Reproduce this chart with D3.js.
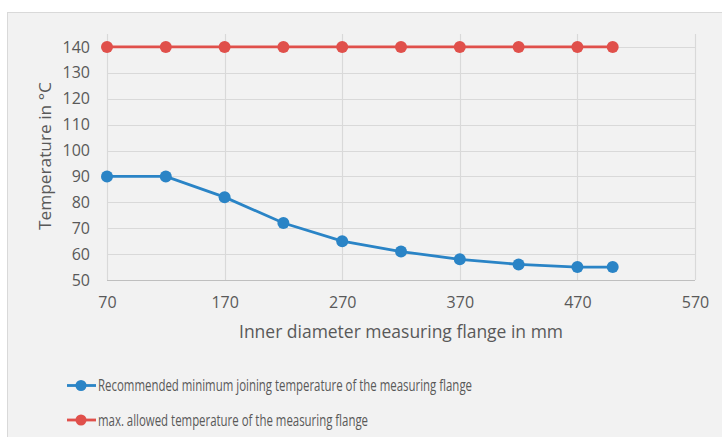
<!DOCTYPE html>
<html><head><meta charset="utf-8">
<script src="https://cdn.jsdelivr.net/npm/d3@7"></script>
<style>body{margin:0;background:#fff}svg{display:block}text{font-family:"Open Sans",sans-serif;fill:#595959}</style>
</head><body><svg id="c" width="722" height="437"></svg>
<script>
const xValues = [70,120,170,220,270,320,370,420,470,500];
const recommended = [90,90,82,72,65,61,58,56,55,55];
const maxAllowed = [140,140,140,140,140,140,140,140,140,140];
const xTicks = [70,170,270,370,470,570];
const yTicks = [50,60,70,80,90,100,110,120,130,140];
const seriesNames = ["Recommended minimum joining temperature of the measuring flange","max. allowed temperature of the measuring flange"];
const colors = ["#2a84c6","#e0504b"];

const svg = d3.select("#c");
svg.append("rect").attr("x",7.5).attr("y",12.5).attr("width",730).attr("height",440).attr("fill","#f2f2f2").attr("stroke","#d9d9d9");
const x = d3.scaleLinear().domain([70,570]).range([107,695]);
const y = d3.scaleLinear().domain([50,145]).range([280,34]);
const g = svg.append("g");
g.selectAll(".hg").data(yTicks).join("line").attr("x1",107).attr("x2",695).attr("y1",d=>Math.round(y(d))+0.5).attr("y2",d=>Math.round(y(d))+0.5).attr("stroke","#d9d9d9").attr("stroke-width",1.2);
g.selectAll(".vg").data(xTicks).join("line").attr("y1",34).attr("y2",280).attr("x1",d=>Math.round(x(d))+0.5).attr("x2",d=>Math.round(x(d))+0.5).attr("stroke","#d9d9d9").attr("stroke-width",1.2);
g.append("line").attr("x1",107).attr("x2",695).attr("y1",280.5).attr("y2",280.5).attr("stroke","#bfbfbf").attr("stroke-width",1.2);
const yAxis = d3.axisLeft(y).tickValues(yTicks).tickSize(0).tickPadding(17);
const ya = svg.append("g").attr("transform","translate(107,0)").call(yAxis);
ya.select(".domain").remove();
ya.selectAll("text").style("font-size","16px").attr("fill","#595959").style("font-family","'Open Sans',sans-serif");
const xAxis = d3.axisBottom(x).tickValues(xTicks).tickSize(0).tickPadding(17).tickFormat(d3.format("d"));
const xa = svg.append("g").attr("transform","translate(0,280)").call(xAxis);
xa.select(".domain").remove();
xa.selectAll("text").style("font-size","16px").attr("fill","#595959").style("font-family","'Open Sans',sans-serif");
svg.append("text").attr("x",401).attr("y",338).attr("text-anchor","middle").style("font-size","17.5px").attr("textLength",324).attr("lengthAdjust","spacingAndGlyphs").text("Inner diameter measuring flange in mm");
svg.append("text").attr("transform","translate(51,156) rotate(-90)").attr("text-anchor","middle").style("font-size","17px").attr("textLength",148).attr("lengthAdjust","spacingAndGlyphs").text("Temperature in °C");
const data = [recommended, maxAllowed];
const line = d3.line().x((d,i)=>x(xValues[i])).y(d=>y(d));
data.slice().reverse().forEach((s,k)=>{
  const ci = data.length-1-k;
  svg.append("path").datum(s).attr("d",line).attr("fill","none").attr("stroke",colors[ci]).attr("stroke-width",2.8);
  svg.selectAll(null).data(s).join("circle").attr("cx",(d,i)=>x(xValues[i])).attr("cy",d=>y(d)).attr("r",6).attr("fill",colors[ci]);
});
const legY = [385.5,420];
seriesNames.forEach((n,i)=>{
  svg.append("line").attr("x1",67).attr("x2",96).attr("y1",legY[i]).attr("y2",legY[i]).attr("stroke",colors[i]).attr("stroke-width",2.8);
  svg.append("circle").attr("cx",81).attr("cy",legY[i]).attr("r",5.5).attr("fill",colors[i]);
  svg.append("text").attr("x",98).attr("y",legY[i]+5.5).style("font-size","16px").attr("textLength", i===0?374:270).attr("lengthAdjust","spacingAndGlyphs").text(n);
});
</script></body></html>
